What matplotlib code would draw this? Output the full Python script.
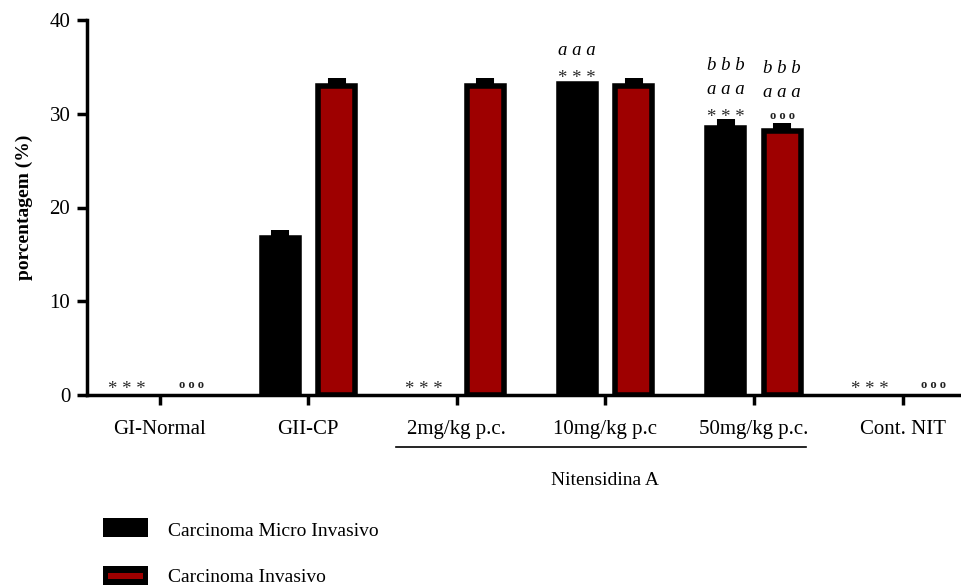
import matplotlib
matplotlib.use("Agg")
import matplotlib.pyplot as plt
from matplotlib.patches import Rectangle
from matplotlib.lines import Line2D
import numpy as np

plt.rcParams['font.family'] = ['Liberation Serif', 'DejaVu Serif']

categories = ["GI-Normal", "GII-CP", "2mg/kg p.c.", "10mg/kg p.c", "50mg/kg p.c.", "Cont. NIT"]
micro_vals = [0, 16.7, 0, 33.2, 28.5, 0]
micro_err = [0, 0.85, 0, 0, 0.9, 0]
inv_vals = [0, 33.0, 33.0, 33.0, 28.15, 0]
inv_err = [0, 0.85, 0.85, 0.85, 0.9, 0]
series_names = ["Carcinoma Micro Invasivo", "Carcinoma Invasivo"]
group_label = "Nitensidina A"
ylabel = "porcentagem (%)"
yticks = [0, 10, 20, 30, 40]

# significance marks: (category index, series 0/1, labels bottom->top)
marks = [
    (0, 0, ["* * *"]), (0, 1, ["o o o"]),
    (2, 0, ["* * *"]),
    (3, 0, ["* * *", "a a a"]),
    (4, 0, ["* * *", "a a a", "b b b"]),
    (4, 1, ["o o o", "a a a", "b b b"]),
    (5, 0, ["* * *"]), (5, 1, ["o o o"]),
]

RED = "#9e0000"
W, H = 962, 587
PX = 72 / 100  # points per pixel
fig = plt.figure(figsize=(W / 100, H / 100), dpi=100)
ax = fig.add_axes([87 / W, 1 - 395 / H, (962 - 87) / W, (395 - 20) / H])

x = np.arange(len(categories))
off = 0.19
bw = 0.25
edge = 4.0
ax.bar(x - off, micro_vals, bw, color="black", edgecolor="black",
       linewidth=[edge if v > 0 else 0 for v in micro_vals], zorder=2)
ax.bar(x + off, inv_vals, bw, color=RED, edgecolor="black",
       linewidth=[edge if v > 0 else 0 for v in inv_vals], zorder=2)

for xs, vals, errs in [(x - off, micro_vals, micro_err), (x + off, inv_vals, inv_err)]:
    for xi, v, e in zip(xs, vals, errs):
        if e > 0:
            ax.errorbar([xi], [v], yerr=[[0], [e]], fmt='none', ecolor='black',
                        elinewidth=13, capsize=0, zorder=3)

# significance labels
offsets_px = [7, 30, 54]
for ci, s, labs in marks:
    xi = ci - off if s == 0 else ci + off
    vals = micro_vals if s == 0 else inv_vals
    errs = micro_err if s == 0 else inv_err
    top = vals[ci] + errs[ci]
    extra = 0 if errs[ci] > 0 else edge / PX / 2
    for k, lab in enumerate(labs):
        dx = 0
        if top > 0:
            dy = (offsets_px[k] + extra) * PX
        else:
            dy = 10 * PX
            dx = -5 * PX if s == 0 else 3 * PX
        ch = lab[0]
        if ch == '*':
            kw = dict(fontsize=13.5, color='#2a2a2a')
            dy -= 5 * PX
        elif ch == 'o':
            kw = dict(fontsize=9, fontweight='bold', color='#222222')
        else:
            kw = dict(fontsize=13.5, fontstyle='italic', color='black')
        ax.annotate(lab, (xi, top), xytext=(dx, dy), textcoords='offset points',
                    ha='center', va='center', **kw)

ax.set_xlim(-0.49, 5.40)
ax.set_ylim(0, 40)
ax.set_yticks(yticks)
ax.set_xticks(x)
ax.set_xticklabels(categories, fontsize=15)
ax.tick_params(axis='y', labelsize=15, width=2.5, length=7, direction='out', pad=5)
ax.tick_params(axis='x', width=2.5, length=7, direction='out', pad=11)
for sp in ['top', 'right']:
    ax.spines[sp].set_visible(False)
for sp in ['left', 'bottom']:
    ax.spines[sp].set_linewidth(2.5)
ax.set_ylabel(ylabel, fontsize=14, fontweight='bold', labelpad=12)

# group bracket
trans = ax.get_xaxis_transform()
ax.add_line(Line2D([1.59, 4.35], [-0.1387, -0.1387], transform=trans, color='black',
                   linewidth=1.2, clip_on=False))
ax.text(3.0, -0.229, group_label, transform=trans, ha='center', va='center', fontsize=14)

# legend drawn manually
fig.patches.append(Rectangle((103 / W, 1 - 537 / H), 45 / W, 19 / H, transform=fig.transFigure,
                             facecolor='black', edgecolor='none'))
fig.patches.append(Rectangle((103 / W, 1 - 585 / H), 45 / W, 19 / H, transform=fig.transFigure,
                             facecolor='black', edgecolor='none'))
fig.patches.append(Rectangle((108 / W, 1 - 579 / H), 35 / W, 6.5 / H, transform=fig.transFigure,
                             facecolor=RED, edgecolor='none'))
fig.text(168 / W, 1 - 531 / H, series_names[0], fontsize=14, va='center', ha='left')
fig.text(168 / W, 1 - 578 / H, series_names[1], fontsize=14, va='center', ha='left')

fig.savefig("out.png", dpi=100)
